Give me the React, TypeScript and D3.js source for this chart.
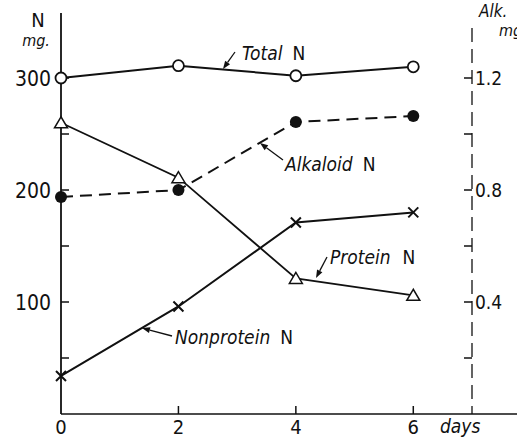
import * as d3 from 'd3';

const days = [0, 2, 4, 6];
const totalN = [300, 311, 302, 310];
const alkaloidN = [0.775, 0.8, 1.043, 1.064];
const proteinN = [260, 211, 121, 106];
const nonproteinN = [34, 96, 171, 180];

const leftTicks = [100, 200, 300];
const leftMinor = [50, 150, 250];
const rightTicks = [0.4, 0.8, 1.2];
const rightMinor = [0.2, 0.6, 1.0];
const dayTicks = [0, 2, 4, 6];

const W = 517;
const H = 439;

const x = d3.scaleLinear().domain([0, 7]).range([61, 472]);
const yL = d3.scaleLinear().domain([0, 300]).range([414, 78]);
const yR = d3.scaleLinear().domain([0, 1.2]).range([414, 78]);

const font = "'Liberation Sans Narrow', 'DejaVu Sans Condensed', 'Roboto Condensed', sans-serif";
const ink = '#111';

function Arrow({ x1, y1, x2, y2 }: { x1: number; y1: number; x2: number; y2: number }) {
  const a = Math.atan2(y2 - y1, x2 - x1);
  const L = 8;
  const w = 3;
  const bx = x2 - L * Math.cos(a);
  const by = y2 - L * Math.sin(a);
  const px = -Math.sin(a) * w;
  const py = Math.cos(a) * w;
  return (
    <g>
      <line x1={x1} y1={y1} x2={bx} y2={by} stroke={ink} strokeWidth={1.3} />
      <polygon points={`${x2},${y2} ${bx + px},${by + py} ${bx - px},${by - py}`} fill={ink} />
    </g>
  );
}

export default function App() {
  const lineL = d3
    .line<number>()
    .x((_, i) => x(days[i]))
    .y((d) => yL(d));
  const lineR = d3
    .line<number>()
    .x((_, i) => x(days[i]))
    .y((d) => yR(d));

  const tri = (cx: number, cy: number) =>
    `${cx},${cy - 6} ${cx - 6.5},${cy + 5} ${cx + 6.5},${cy + 5}`;

  return (
    <svg width={W} height={H} style={{ position: 'absolute', left: 0, top: 0, background: '#fff' }} fontFamily={font} fontStretch="condensed">
      {/* axes */}
      <line x1={x(0)} y1={13} x2={x(0)} y2={414} stroke={ink} strokeWidth={1.8} />
      <line x1={x(0)} y1={414} x2={W} y2={414} stroke={ink} strokeWidth={1.6} />
      <line x1={x(7)} y1={28} x2={x(7)} y2={414} stroke={ink} strokeWidth={1.3} strokeDasharray="14 7" />

      {leftTicks.concat(leftMinor).map((t) => (
        <line key={'lt' + t} x1={x(0)} x2={x(0) + 8} y1={yL(t)} y2={yL(t)} stroke={ink} strokeWidth={1.5} />
      ))}
      {leftTicks.map((t) => (
        <text key={'ll' + t} x={51} y={yL(t)} dy="0.36em" textAnchor="end" fontSize={21} fill={ink}>
          {t}
        </text>
      ))}
      {rightTicks.concat(rightMinor).map((t) => (
        <line key={'rt' + t} x1={x(7) - 8} x2={x(7)} y1={yR(t)} y2={yR(t)} stroke={ink} strokeWidth={1.5} />
      ))}
      {rightTicks.map((t) => (
        <text key={'rl' + t} x={x(7) + 3} y={yR(t)} dy="0.36em" fontSize={19} fill={ink}>
          {t.toFixed(1)}
        </text>
      ))}
      {dayTicks.map((d) => (
        <g key={'d' + d}>
          {d > 0 && <line x1={x(d)} x2={x(d)} y1={414} y2={406} stroke={ink} strokeWidth={1.5} />}
          <text x={x(d)} y={434} textAnchor="middle" fontSize={20} fill={ink}>
            {d}
          </text>
        </g>
      ))}
      <text x={440} y={433} fontSize={19} fontStyle="italic" fill={ink}>days</text>

      {/* axis titles */}
      <text x={38} y={27} textAnchor="middle" fontSize={20} fill={ink}>N</text>
      <text x={36} y={46} textAnchor="middle" fontSize={16} fontStyle="italic" fill={ink}>mg.</text>
      <text x={479} y={17} fontSize={17} fontStyle="italic" fill={ink}>Alk.</text>
      <text x={499} y={36} fontSize={16} fontStyle="italic" fill={ink}>mg.</text>

      {/* series lines */}
      <path d={lineL(totalN) || ''} fill="none" stroke={ink} strokeWidth={2} />
      <path d={lineR(alkaloidN) || ''} fill="none" stroke={ink} strokeWidth={2} strokeDasharray="12 7" />
      <path d={lineL(proteinN) || ''} fill="none" stroke={ink} strokeWidth={1.8} />
      <path d={lineL(nonproteinN) || ''} fill="none" stroke={ink} strokeWidth={2} />

      {/* markers */}
      {days.map((d, i) => (
        <g key={'m' + d}>
          <circle cx={x(d)} cy={yL(totalN[i])} r={5.5} fill="#fff" stroke={ink} strokeWidth={1.8} />
          <circle cx={x(d)} cy={yR(alkaloidN[i])} r={6} fill={ink} />
          <polygon points={tri(x(d), yL(proteinN[i]))} fill="#fff" stroke={ink} strokeWidth={1.5} />
          <path
            d={`M${x(d) - 5},${yL(nonproteinN[i]) - 5}L${x(d) + 5},${yL(nonproteinN[i]) + 5}M${x(d) - 5},${yL(nonproteinN[i]) + 5}L${x(d) + 5},${yL(nonproteinN[i]) - 5}`}
            stroke={ink}
            strokeWidth={2}
          />
        </g>
      ))}

      {/* annotations */}
      <text x={242} y={60} fontSize={19} fill={ink}>
        <tspan fontStyle="italic">Total</tspan>
        <tspan dx={10}>N</tspan>
      </text>
      <Arrow x1={235} y1={52} x2={223} y2={69} />

      <text x={285} y={171} fontSize={19} fill={ink}>
        <tspan fontStyle="italic">Alkaloid</tspan>
        <tspan dx={10}>N</tspan>
      </text>
      <Arrow x1={283} y1={160} x2={260} y2={143} />

      <text x={330} y={264} fontSize={19} fill={ink}>
        <tspan fontStyle="italic">Protein</tspan>
        <tspan dx={12}>N</tspan>
      </text>
      <Arrow x1={327} y1={257} x2={316} y2={278} />

      <text x={175} y={344} fontSize={19} fill={ink}>
        <tspan fontStyle="italic">Nonprotein</tspan>
        <tspan dx={10}>N</tspan>
      </text>
      <Arrow x1={172} y1={336} x2={142} y2={328} />
    </svg>
  );
}
